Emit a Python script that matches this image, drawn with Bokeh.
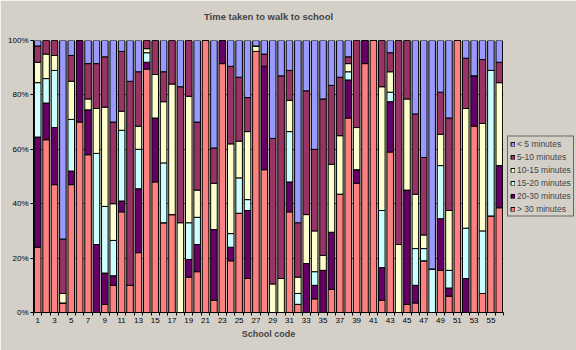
from bokeh.plotting import figure
from bokeh.models import ColumnDataSource, FixedTicker, Legend, LegendItem
from bokeh.embed import file_html
from bokeh.resources import INLINE

schools = list(range(1, 57))
cats = ["> 30 minutes", "20-30 minutes", "15-20 minutes", "10-15 minutes", "5-10 minutes", "< 5 minutes"]
colors = ["#FF8080", "#660066", "#CCFFFF", "#FFFFCC", "#993366", "#9999FF"]

over30 = [24, 63.5, 47, 3.5, 47, 70, 58, 0, 3, 10, 37, 10, 22, 89.5, 48, 33, 36, 0, 13, 15,
          100, 4.5, 91.5, 19, 36.5, 12.5, 96, 52.5, 0, 0, 37, 3, 0, 5, 0, 8.5, 43.5, 71.5, 47.5, 91.5,
          100, 4.5, 59, 0, 3, 3.5, 19, 0, 15.5, 6, 100, 0, 68.5, 7, 35.5, 38.5]
m20_30 = [40.5, 13.5, 21, 0, 5, 30, 16.5, 25, 11.5, 3.5, 4, 0, 23.5, 2.5, 23.5, 0, 0, 0, 6.5, 10,
          0, 26, 8.5, 5, 0, 25, 0, 38, 0, 0, 11, 0, 18, 5, 15.5, 21, 0, 14, 5, 8.5,
          0, 12, 18.5, 0, 42, 6.5, 0, 0, 19, 3, 0, 12.5, 18.5, 0, 0, 15.5]
m15_20 = [20, 9, 21, 0, 19, 0, 0, 33.5, 24.5, 13, 26, 0, 14.5, 3.5, 0, 22, 0, 0, 13.5, 10,
          0, 0, 0, 5, 13, 4, 0, 0, 0, 0, 18.5, 4, 0, 5, 0, 0, 0, 3, 0, 0,
          0, 21, 3.5, 0, 0, 13.5, 4.5, 16, 19.5, 6.5, 0, 18.5, 0, 23, 53.5, 0]
m10_15 = [7.5, 9, 5.5, 3.5, 14, 0, 4, 16.5, 36.5, 13.5, 7, 0, 8.5, 1.5, 16, 22.5, 48, 33, 46.5, 10,
          0, 17, 0, 33, 13.5, 25, 2, 0, 10.5, 12.5, 11.5, 6, 18, 15, 5.5, 25, 21.5, 3, 15.5, 0,
          0, 45.5, 7.5, 25, 33.5, 20, 5, 0, 11.5, 22, 0, 44, 0, 39.5, 0, 30.5]
m5_10 = [6, 5, 5.5, 20, 9.5, 0, 13, 16.5, 18.5, 30, 22, 75, 20, 3, 12.5, 11, 16, 50, 20.5, 25,
         0, 13, 0, 28.5, 23.5, 12.5, 0, 4.5, 53.5, 74.5, 11, 20, 45.5, 30, 57.5, 29, 21.5, 2.5, 32, 0,
         0, 17, 7, 75, 21.5, 29.5, 28.5, 0, 15.5, 34, 0, 18.5, 0, 23.5, 0, 7.5]
under5 = [2, 0, 0, 73, 5.5, 0, 8.5, 8.5, 6, 30, 4, 15, 11.5, 0, 0, 11.5, 0, 17, 0, 30,
          0, 39.5, 0, 9.5, 13.5, 21, 2, 5, 36, 13, 11, 67, 18.5, 40, 21.5, 16.5, 13.5, 6, 0, 0,
          0, 0, 4.5, 0, 0, 27, 43, 84, 19, 28.5, 0, 6.5, 13, 7, 11, 8]

keys = ["over30", "m20_30", "m15_20", "m10_15", "m5_10", "under5"]
src = ColumnDataSource(dict(x=schools, over30=over30, m20_30=m20_30, m15_20=m15_20,
                            m10_15=m10_15, m5_10=m5_10, under5=under5))

BG = "#D4D0C8"
FONT = "Liberation Sans"

p = figure(width=576, height=350, frame_width=470, frame_height=272,
           x_range=(0.5, 56.5), y_range=(0, 100),
           output_backend="svg", toolbar_location=None,
           min_border_left=33, min_border_right=73, min_border_top=40, min_border_bottom=38,
           background_fill_color=BG, border_fill_color=BG)
p.outline_line_color = None

rends = p.vbar_stack(keys, x="x", width=0.78, source=src, fill_color=colors,
                     line_color="black", line_width=1)

p.title.text = "Time taken to walk to school\n "
p.title.align = "center"
p.title.vertical_align = "bottom"
p.title.text_font = FONT
p.title.text_font_size = "9.5px"
p.title.text_font_style = "bold"
p.title.standoff = 16

p.xgrid.visible = False
p.ygrid.ticker = FixedTicker(ticks=[20, 40, 60, 80])
p.ygrid.grid_line_color = "#000000"
p.ygrid.grid_line_dash = "3 3"
p.ygrid.grid_line_alpha = 0.7

p.yaxis.ticker = FixedTicker(ticks=[0, 20, 40, 60, 80, 100])
p.yaxis.major_label_overrides = {0: "0%", 20: "20%", 40: "40%", 60: "60%", 80: "80%", 100: "100%"}
p.yaxis.minor_tick_line_color = None
p.yaxis.major_tick_out = 3
p.yaxis.major_tick_in = 0
p.yaxis.major_label_standoff = 2

p.xaxis.ticker = FixedTicker(ticks=list(range(1, 57, 2)),
                             minor_ticks=[i + 0.5 for i in range(0, 57)])
p.xaxis.major_tick_line_color = None
p.xaxis.major_tick_out = 3
p.xaxis.major_tick_in = 0
p.xaxis.minor_tick_line_color = "black"
p.xaxis.minor_tick_out = 3
p.xaxis.minor_tick_in = 0
p.xaxis.major_label_standoff = 2
p.xaxis.axis_label = "School code"
p.xaxis.axis_label_standoff = 3
p.xaxis.axis_label_text_font = FONT
p.xaxis.axis_label_text_font_size = "9px"
p.xaxis.axis_label_text_font_style = "bold"

p.yaxis.major_tick_line_color = "black"
for ax in (p.xaxis, p.yaxis):
    ax.axis_line_color = "black"
    ax.major_label_text_font = FONT
    ax.major_label_text_font_size = "8px"
    ax.major_label_text_color = "black"

items = [LegendItem(label=cats[i], renderers=[rends[i]]) for i in range(5, -1, -1)]
leg = Legend(items=items, location="left", orientation="vertical",
             background_fill_color=BG, background_fill_alpha=1,
             border_line_color="black", border_line_width=1,
             label_text_font=FONT, label_text_font_size="8.5px",
             glyph_width=5, glyph_height=5, label_height=10, label_standoff=2,
             spacing=3, padding=2, margin=4)
p.add_layout(leg, "right")

open("out.html", "w").write(file_html(p, INLINE))
